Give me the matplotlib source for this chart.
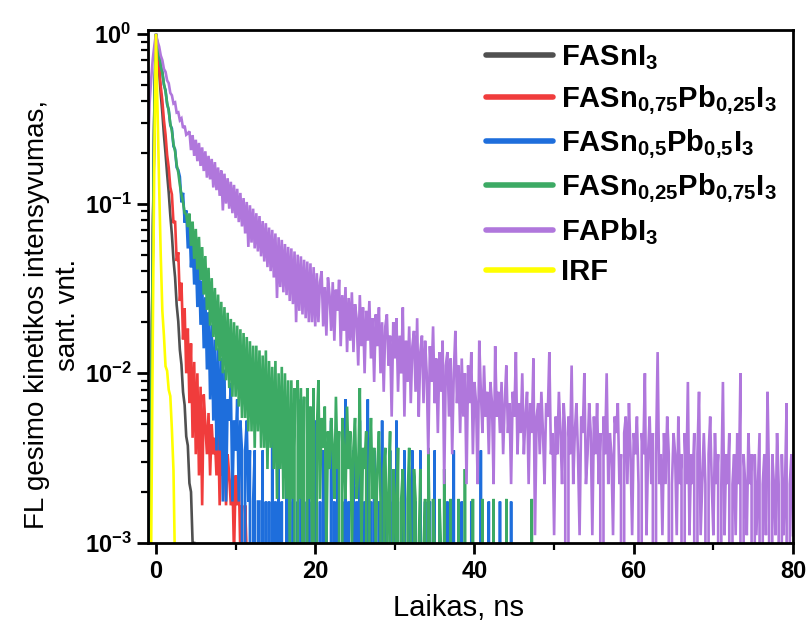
import numpy as np
import matplotlib
matplotlib.use('Agg')
import matplotlib.pyplot as plt
from matplotlib.ticker import FixedLocator, NullFormatter, LogLocator

# ---------------- data (photon counts per 0.2 ns channel, starting at -1 ns) ----------------
T0 = -1.0
DT = 0.2

labels = [r'FASnI$_3$',
          r'FASn$_{0{,}75}$Pb$_{0{,}25}$I$_3$',
          r'FASn$_{0{,}5}$Pb$_{0{,}5}$I$_3$',
          r'FASn$_{0{,}25}$Pb$_{0{,}75}$I$_3$',
          r'FAPbI$_3$',
          'IRF']
colors = ['#505050', '#F03C3C', '#1E6EDC', '#3CAA64', '#B077DC', '#FFFF00']

grey_counts = [0, 3, 20, 198, 1415, 4000, 3090, 2370, 1770, 1370, 1015, 790, 598, 466, 341,
               262, 186, 147, 101, 81, 55, 45, 31, 26, 17, 15, 9, 8, 4, 4, 2, 2, 1]

red_counts = [0, 2, 8, 70, 440, 1200, 948, 770, 590, 485, 372, 306, 232, 196, 150,
              136, 92, 95, 55, 62, 32, 41, 19, 29, 12, 22, 8, 18, 5, 14, 4, 12, 3, 10, 2, 9,
              6, 4, 7, 3, 6, 4, 5, 3, 6, 2, 5, 3, 4, 2, 4, 3, 2, 3, 1, 3,
              2, 3, 1, 2, 0, 2, 1, 0, 1, 0, 0, 1, 0, 0]

blue_counts = [0, 1, 4, 31, 215, 570, 489, 441, 370, 341,
               285, 266, 219, 204, 165, 158, 124, 119, 93, 90,
               82, 58, 66, 44, 52, 31, 45, 24, 35, 19,
               29, 14, 25, 11, 20, 8, 16, 6, 13, 4,
               11, 3, 9, 2, 8, 2, 7, 1, 6, 1,
               4, 3, 5, 1, 3, 2, 4, 1, 3, 2,
               0, 2, 3, 1, 2, 0, 1, 2, 0, 1,
               1, 0, 2, 0, 1, 0, 1, 0, 3, 0, 1,
               0, 2, 0, 1, 0, 0, 3, 0, 1, 0, 2, 0, 0, 1, 0, 4, 0, 1, 0, 0,
               2, 0, 1, 0, 3, 0, 0, 1, 0, 2, 0, 1, 0, 0, 3, 0, 1, 0, 2, 0,
               0, 1, 0, 4, 0, 1, 0, 0, 2, 0, 1, 0, 3, 0, 0, 1, 0, 4, 0, 1,
               0, 2, 0, 0, 1, 0, 3, 0, 1, 0, 0, 2, 0, 1, 0, 3, 0, 0, 1, 0,
               2, 0, 0, 1, 0, 2, 0, 1, 0, 0, 2, 0, 0, 1, 0, 0, 1, 0, 0, 2,
               0, 0, 1, 0, 0, 0, 0, 1, 0, 0, 0, 2, 0, 0, 0, 0, 1, 0, 0, 0,
               0, 0, 1, 0, 0, 0, 0, 0, 2, 0, 0, 0, 0, 1, 0, 0, 0, 0, 0, 0,
               1, 0, 0, 0, 0, 0, 0, 1, 0, 0]

green_counts = [0, 1, 8, 60, 420, 1100, 952, 841, 719, 648,
                558, 503, 431, 388, 326, 295, 246, 224, 186, 168,
                142, 124, 112, 97, 95, 80, 96, 62, 86, 52,
                78, 45, 70, 39, 61, 32, 54, 26, 46, 21,
                40, 18, 35, 15, 32, 13, 29, 11, 27, 10,
                25, 9, 23, 8, 22, 8, 21, 7, 20, 6,
                19, 6, 18, 5, 17, 5, 16, 4, 16, 5,
                15, 4, 14, 4, 15, 3, 13, 4, 12, 3,
                13, 2, 11, 3, 12, 2, 11, 2, 10, 1,
                10, 2, 9, 0, 10, 2, 9, 1, 8, 0,
                9, 2, 7, 1, 9, 0, 5, 10, 2, 6,
                4, 7, 1, 5, 3, 6, 4, 2, 8, 3,
                5, 0, 6, 4, 2, 7, 3, 5, 1, 4,
                6, 2, 3, 9, 1, 4, 3, 5, 0, 3,
                6, 2, 4, 1, 3, 5, 2, 0, 3, 4,
                1, 2, 5, 0, 3, 2, 1, 4, 0, 2,
                3, 1, 0, 2, 4, 1, 0, 3, 2, 0,
                1, 3, 0, 1, 2, 0, 4, 1, 0, 2,
                1, 0, 0, 2, 1, 0, 3, 0, 1, 0,
                2, 0, 1, 0, 0, 2, 0, 1, 0, 3,
                0, 0, 1, 0, 2, 0, 0, 1, 0, 0,
                2, 0, 0, 1, 0, 0, 0, 2, 0, 0,
                1, 0, 0, 0, 0, 2, 0, 0, 0, 1,
                0, 0, 0, 0, 1, 0, 0, 0, 0, 0,
                0, 2, 0, 0, 0, 0, 0, 0, 1, 0]

purple_counts = [175, 352, 488, 641, 770, 900, 812, 757, 671, 630,
                 559, 538, 479, 461, 404, 391, 350, 355, 309, 311,
                 279, 286, 251, 259, 229, 233, 240, 186, 228, 172,
                 214, 160, 205, 150, 193, 140, 183, 128, 172, 125,
                 165, 112, 158, 108, 147, 100, 141, 82, 135, 90,
                 127, 84, 121, 79, 116, 74, 110, 70, 104, 66,
                 97, 60, 92, 50, 88, 53, 84, 49, 79, 47,
                 76, 44, 71, 41, 69, 38, 65, 36, 63, 33,
                 60, 25, 57, 29, 55, 27, 52, 26, 50, 24,
                 49, 23, 47, 18, 45, 21, 44, 20, 42, 19,
                 41, 18, 40, 18, 38, 17, 35, 18, 31, 36,
                 17, 29, 15, 33, 26, 16, 31, 14, 28, 21,
                 32, 13, 26, 16, 29, 12, 25, 14, 27, 12,
                 23, 19, 10, 26, 13, 22, 9, 21, 14, 24,
                 11, 19, 8, 20, 13, 22, 9, 18, 7, 17,
                 20, 10, 15, 5, 18, 11, 19, 7, 15, 9,
                 22, 5, 14, 8, 17, 6, 13, 16, 7, 19,
                 5, 12, 15, 6, 14, 9, 3, 13, 8, 17,
                 6, 11, 4, 12, 7, 14, 2, 10, 12, 5,
                 11, 3, 9, 16, 6, 10, 4, 11, 5, 9,
                 2, 10, 6, 12, 3, 8, 6, 2, 14, 7,
                 4, 10, 5, 7, 3, 8, 6, 2, 13, 5,
                 7, 4, 8, 3, 6, 10, 4, 6, 2, 7,
                 5, 12, 3, 6, 4, 9, 3, 5, 7, 2,
                 6, 4, 11, 1, 5, 6, 3, 7, 4, 2,
                 6, 5, 12, 3, 4, 1, 5, 3, 7, 4,
                 2, 6, 4, 0, 5, 3, 10, 2, 4, 6,
                 3, 1, 5, 4, 9, 2, 3, 6, 4, 1,
                 5, 3, 6, 2, 4, 0, 5, 3, 9, 2,
                 4, 3, 1, 5, 4, 6, 2, 3, 0, 4,
                 5, 2, 6, 3, 1, 4, 3, 5, 2, 0,
                 4, 3, 9, 1, 3, 5, 2, 4, 0, 3,
                 12, 2, 3, 1, 4, 2, 5, 3, 0, 2,
                 4, 3, 1, 5, 2, 3, 0, 4, 2, 8,
                 1, 3, 2, 4, 0, 3, 7, 1, 2, 4,
                 2, 0, 3, 5, 2, 1, 4, 2, 3, 0,
                 2, 8, 1, 3, 2, 4, 0, 2, 3, 1,
                 4, 2, 9, 0, 3, 2, 1, 4, 2, 3,
                 0, 3, 1, 2, 4, 0, 2, 3, 1, 7,
                 2, 0, 3, 2, 1, 4, 2, 0, 3, 1,
                 2, 6, 0, 2, 3, 1]

yellow_counts = [0, 0, 3, 50, 610, 3000, 1050, 380, 148, 70, 50, 33, 31, 24, 22, 14, 8, 2, 0]

all_counts = [grey_counts, red_counts, blue_counts, green_counts, purple_counts, yellow_counts]

x_ticks = [0, 20, 40, 60, 80]
x_minor = [10, 30, 50, 70]
y_ticks = [1e-3, 1e-2, 1e-1, 1]
y_ticklabels = [r'$10^{-3}$', r'$10^{-2}$', r'$10^{-1}$', r'$10^{0}$']

# ---------------- style ----------------
plt.rcParams.update({
    'font.family': ['Liberation Sans', 'DejaVu Sans'],
    'mathtext.fontset': 'custom',
    'mathtext.rm': 'Liberation Sans:bold',
    'mathtext.bf': 'Liberation Sans:bold',
    'mathtext.it': 'Liberation Sans:italic:bold',
    'mathtext.sf': 'Liberation Sans:bold',
})

fig = plt.figure(figsize=(8.11, 6.28), dpi=100)
ax = fig.add_axes([0.1825, 0.1354, 0.7953, 0.8169])

for lab, cnt, col in zip(labels, all_counts, colors):
    c = np.asarray(cnt, dtype=float)
    t = T0 + DT * np.arange(len(c))
    ax.plot(t, c / c.max(), color=col, lw=1.9, label=lab, solid_joinstyle='miter')

ax.set_yscale('log', nonpositive='clip')
ax.set_xlim(-1, 80)
ax.set_ylim(1e-3, 1.055)

ax.set_xticks(x_ticks)
ax.set_xticklabels([str(v) for v in x_ticks], fontweight='bold')
ax.xaxis.set_minor_locator(FixedLocator(x_minor))
ax.set_yticks(y_ticks)
ax.set_yticklabels(y_ticklabels)
ax.yaxis.set_minor_locator(LogLocator(base=10, subs=np.arange(2, 10)))
ax.yaxis.set_minor_formatter(NullFormatter())

ax.tick_params(which='major', direction='out', length=8, width=2.0, labelsize=17, pad=4)
ax.tick_params(which='minor', direction='out', length=5, width=1.6)
for s in ax.spines.values():
    s.set_linewidth(2.0)
    s.set_zorder(5)

ax.set_xlabel('Laikas, ns', fontsize=21)
ax.xaxis.set_label_coords(0.482, -0.1)
ax.set_ylabel('FL gesimo kinetikos intensyvumas,\nsant. vnt.', fontsize=20, linespacing=1.25)
ax.yaxis.set_label_coords(-0.104, 0.445)

leg = ax.legend(loc='upper left', bbox_to_anchor=(0.515, 0.985), frameon=False,
                prop={'weight': 'bold', 'size': 21}, handlelength=2.3, handletextpad=0.28,
                labelspacing=0.38, borderpad=0.2, borderaxespad=0)
for h in leg.get_lines():
    h.set_linewidth(4)
    h.set_solid_capstyle('round')

fig.savefig('out.png', dpi=100)
